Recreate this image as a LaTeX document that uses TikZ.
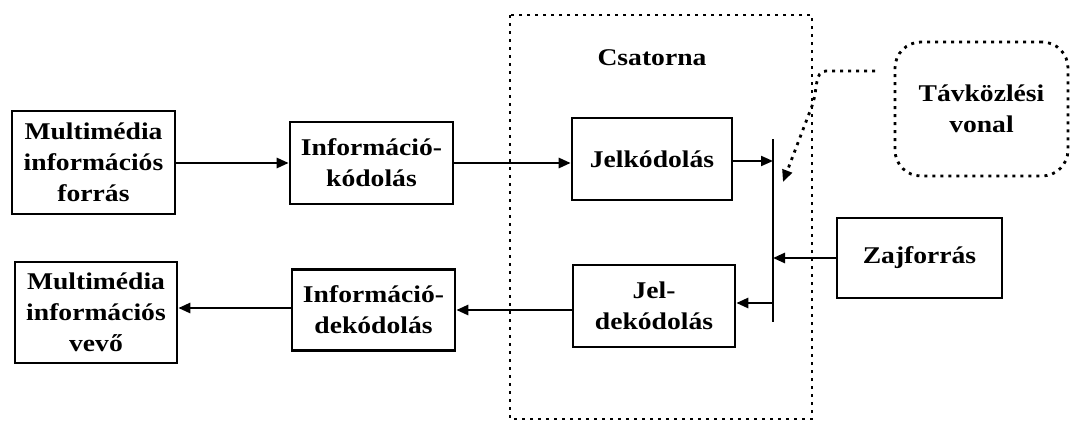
\documentclass[tikz,border=0pt]{standalone}
\usepackage{fontspec}
\setmainfont{Liberation Serif}[FakeStretch=1.15]
\usetikzlibrary{arrows.meta}
\tikzset{
  blk/.style={draw, line width=2.6pt, inner sep=0pt, align=center,
    font=\fontsize{24}{31}\selectfont\bfseries},
  conn/.style={line width=2.6pt, -{Triangle[length=12pt,width=10pt]}},
  dotline/.style={line width=2.8pt, dash pattern=on 3pt off 5pt},
}
\begin{document}
\begin{tikzpicture}[x=1pt,y=-1pt]
\useasboundingbox (0,0) rectangle (1072,423);
% channel frame
\draw[dotline] (510,15) rectangle (812,419);
\node[font=\fontsize{24}{31}\selectfont\bfseries] (csat) at (652,58) {Csatorna};
% boxes
\node[blk, minimum width=163pt, minimum height=103pt] (src) at (93.5,162.5) {Multimédia\\információs\\forrás};
\node[blk, minimum width=163pt, minimum height=82pt] (ikod) at (371.5,163) {Információ-\\kódolás};
\node[blk, minimum width=160pt, minimum height=82pt] (jkod) at (652,159) {Jelkódolás};
\node[blk, minimum width=162pt, minimum height=101pt] (vevo) at (96,312.5) {Multimédia\\információs\\vevő};
\node[blk, minimum width=163pt, minimum height=81pt] (idek) at (373.5,310) {Információ-\\dekódolás};
\node[blk, minimum width=162pt, minimum height=82pt] (jdek) at (654,306) {Jel-\\dekódolás};
\node[blk, minimum width=165pt, minimum height=80pt] (zaj) at (919.5,258) {Zajforrás};
\node[blk, dotline, rounded corners=26pt, minimum width=173pt, minimum height=134pt] (tav) at (981.5,109) {Távközlési\\vonal};
% bar
\coordinate (bartop) at (773,139);
\coordinate (barbot) at (773,322);
\draw[line width=2.8pt] (bartop) -- (barbot);
% connectors
\draw[conn] (src.east |- ikod.west) -- (ikod.west);
\draw[conn] (ikod.east) -- (jkod.west |- ikod.east);
\draw[conn, line width=2pt] (jkod.east |- 0,161) -- (bartop |- 0,161);
\draw[conn] (zaj.west) -- (zaj.west -| bartop);
\draw[conn] (bartop |- 0,303) -- (jdek.east |- 0,303);
\draw[conn] (jdek.west |- idek.east) -- (idek.east);
\draw[conn] (idek.west |- 0,308) -- (vevo.east |- 0,308);
% dotted pointer from Távközlési vonal
\coordinate (dstart) at (875,71);
\coordinate (dtip) at (783,182);
\draw[dotline, -{Triangle[length=12pt,width=10pt]}] (dstart) -- (826,71) .. controls (814,71) and (818,90) .. (812,106) -- (dtip);
\end{tikzpicture}
\end{document}
